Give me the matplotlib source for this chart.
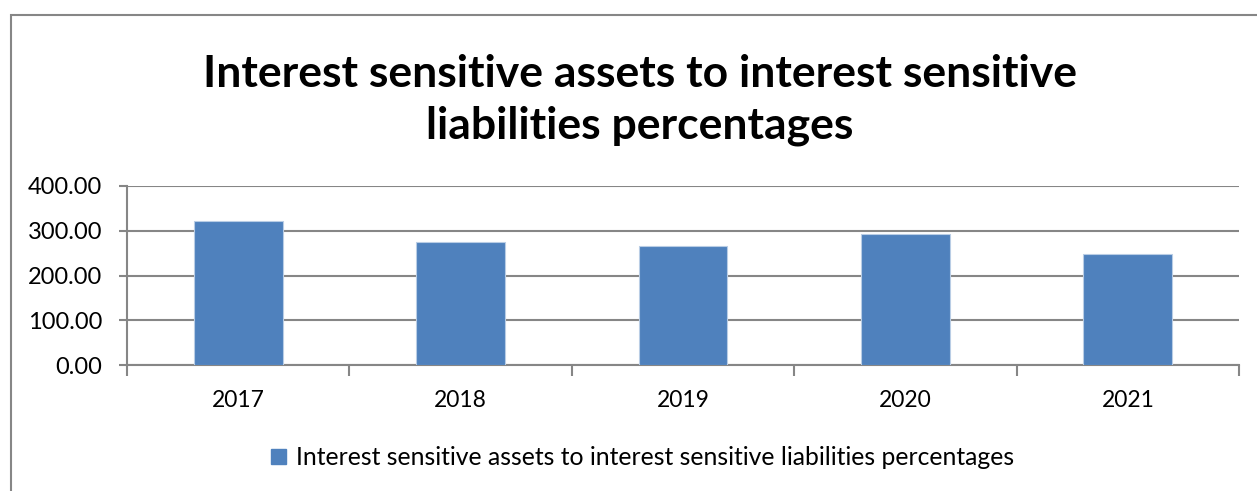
import matplotlib.pyplot as plt
from matplotlib.patches import Rectangle
import numpy as np

years = ['2017', '2018', '2019', '2020', '2021']
ratios = [322.0, 275.6, 266.0, 291.8, 248.8]
series_name = 'Interest sensitive assets to interest sensitive liabilities percentages'
y_ticks = [0, 100, 200, 300, 400]

bar_color = '#4F81BD'
grid_color = '#868686'

plt.rcParams['font.family'] = ['Lato', 'DejaVu Sans']

fig = plt.figure(figsize=(12.57, 4.91), dpi=100)
ax = fig.add_axes([0.101, 0.2566, 0.8847, 0.3646])

# chart area border, open to the right and bottom
fig.patches.append(Rectangle((11 / 1257, -0.5), 1.5, 1.5 - 15 / 491,
                             transform=fig.transFigure, fill=False,
                             edgecolor=grid_color, linewidth=1.5))

x = np.arange(len(years))
ax.bar(x, ratios, width=0.4, color=bar_color, edgecolor='#B9CDE5',
       linewidth=0.8, zorder=3)

ax.set_xlim(-0.5, len(years) - 0.5)
ax.set_ylim(0, 400)
ax.set_yticks(y_ticks)
ax.set_yticklabels([f'{v:.2f}' for v in y_ticks], fontsize=17)
ax.yaxis.grid(True, color=grid_color, linewidth=1.5, zorder=0)

ax.set_xticks(x)
ax.set_xticklabels(years, fontsize=16.5)
ax.tick_params(axis='x', length=0, pad=18)
ax.set_xticks(np.arange(len(years) + 1) - 0.5, minor=True)
ax.tick_params(axis='x', which='minor', length=8, width=1.5, color=grid_color,
               direction='out')
ax.tick_params(axis='y', length=6, width=1.5, color=grid_color, pad=12)

for side in ['top', 'right']:
    ax.spines[side].set_visible(False)
for side in ['left', 'bottom']:
    ax.spines[side].set_color(grid_color)
    ax.spines[side].set_linewidth(1.5)

fig.text(0.509, 0.797,
         'Interest sensitive assets to interest sensitive\nliabilities percentages',
         ha='center', va='center', fontsize=32, fontweight='bold',
         linespacing=1.35)

ax.legend([Rectangle((0, 0), 1, 1, color=bar_color)], [series_name],
          loc='center', bbox_to_anchor=(0.511, 0.068),
          bbox_transform=fig.transFigure, frameon=False, fontsize=17.8,
          handlelength=0.6, handleheight=0.6, handletextpad=0.4)

fig.savefig('out.png', dpi=100, facecolor='white')
